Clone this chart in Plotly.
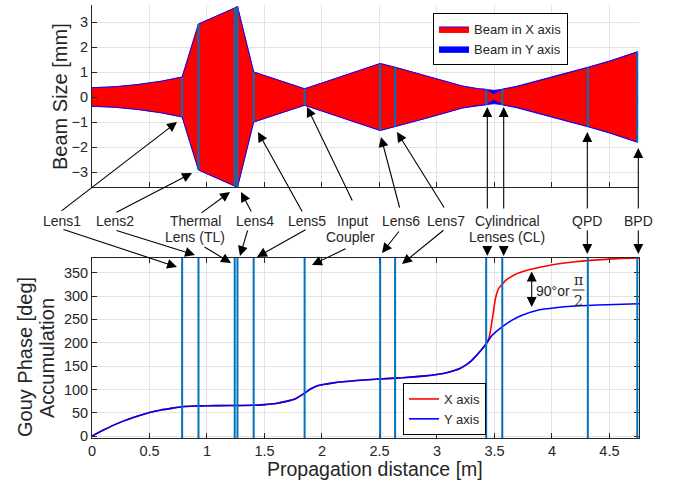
import plotly.graph_objects as go

# ---------------- data ----------------
# beam radius along propagation [m], [mm]
z_beam = [0.0, 0.2, 0.4, 0.6, 0.784, 0.926, 1.241, 1.265, 1.406, 1.849, 2.0, 2.2,
          2.506, 2.636, 2.93, 3.22, 3.36, 3.428, 3.46, 3.498, 3.535, 3.568,
          3.7, 3.9, 4.1, 4.312, 4.5, 4.742]
w_x = [0.37, 0.41, 0.50, 0.63, 0.80, 2.92, 3.56, 3.62, 1.00, 0.33, 0.56, 0.87,
       1.34, 1.19, 0.82, 0.44, 0.33, 0.31, 0.22, 0.12, 0.22, 0.31,
       0.42, 0.66, 0.92, 1.18, 1.43, 1.80]
w_y = [0.37, 0.41, 0.50, 0.63, 0.80, 2.92, 3.56, 3.62, 1.00, 0.33, 0.56, 0.87,
       1.34, 1.19, 0.82, 0.44, 0.33, 0.31, 0.29, 0.27, 0.29, 0.31,
       0.44, 0.68, 0.93, 1.19, 1.44, 1.81]

# optical elements positions [m]
elem_names = ["Lens1", "Lens2", "Thermal Lens (TL)", "Lens4", "Lens5", "Input Coupler",
              "Lens6", "Lens7", "CL1", "CL2", "QPD", "BPD"]
elem_z = [0.784, 0.926, 1.241, 1.265, 1.406, 1.849, 2.506, 2.636, 3.428, 3.568, 4.312, 4.742]

# Gouy phase accumulation [deg]
z_common = [0.0, 0.1, 0.25, 0.4, 0.5, 0.6, 0.7, 0.784, 0.9, 1.0, 1.2, 1.4, 1.5, 1.6,
            1.7, 1.77, 1.849, 1.9, 1.95, 2.0, 2.1, 2.3, 2.5, 2.7, 2.9, 3.0, 3.1,
            3.2, 3.25, 3.31, 3.37, 3.428]
g_common = [0, 13, 30, 43, 50.5, 56, 60, 63, 64.5, 65, 65.5, 66, 67.5, 70,
            75, 80, 92, 101, 107, 110, 114, 119, 122.5, 125, 129, 132, 137,
            145, 152, 164, 180, 198]
z_x_tail = [3.451, 3.466, 3.48, 3.495, 3.509, 3.524, 3.537, 3.567, 3.595, 3.68, 3.77,
            3.884, 4.03, 4.2, 4.4, 4.6, 4.757]
g_x_tail = [209, 227, 248.7, 273.8, 295, 308.5, 316.5, 325, 333, 346, 354,
            361, 368, 373.5, 377.5, 380.5, 381.5]
z_y_tail = [3.48, 3.52, 3.567, 3.65, 3.74, 3.884, 4.03, 4.2, 4.4, 4.757]
g_y_tail = [216, 225, 234, 248, 259, 270, 275, 278.6, 281, 283.5]

x_ticks = [0, 0.5, 1, 1.5, 2, 2.5, 3, 3.5, 4, 4.5]
x_ticklabels = ["0", "0.5", "1", "1.5", "2", "2.5", "3", "3.5", "4", "4.5"]
y1_ticks = [-3, -2, -1, 0, 1, 2, 3]
y2_ticks = [0, 50, 100, 150, 200, 250, 300, 350]

# ---------------- styling ----------------
W, H = 673, 485
ML, MR, MT, MB = 92, 34, 5, 47
PW, PH = W - ML - MR, H - MT - MB
FONT = "Liberation Sans, Arial, Helvetica, sans-serif"
TXT = "#262626"
LENS_C = "#0072BD"
GRID = "#e3e3e3"


def px(x):
    return (x - ML) / PW


def py(y):
    return (H - MB - y) / PH


fig = go.Figure()

# beam envelopes (Y first, X on top)
for name, w, col, rank in [("Beam in Y axis", w_y, "#0000FF", 2),
                           ("Beam in X axis", w_x, "#FF0000", 1)]:
    xs = list(z_beam) + list(z_beam[::-1])
    ys = list(w) + [-v for v in w[::-1]]
    fig.add_trace(go.Scatter(x=xs, y=ys, fill="toself", fillcolor=col, mode="lines",
                             line=dict(color="#0000FF", width=0.8), name=name,
                             legendrank=rank, legend="legend", xaxis="x", yaxis="y"))

# element markers in beam plot
for z in elem_z:
    i = z_beam.index(z)
    h = max(w_x[i], w_y[i])
    fig.add_trace(go.Scatter(x=[z, z], y=[-h, h], mode="lines",
                             line=dict(color=LENS_C, width=2), showlegend=False,
                             hoverinfo="skip", xaxis="x", yaxis="y"))

# Gouy phase curves
fig.add_trace(go.Scatter(x=z_common + z_x_tail, y=g_common + g_x_tail, mode="lines",
                         line=dict(color="#FF0000", width=1.6, shape="spline", smoothing=0.5),
                         name="X axis", legend="legend2", xaxis="x2", yaxis="y2"))
fig.add_trace(go.Scatter(x=z_common + z_y_tail, y=g_common + g_y_tail, mode="lines",
                         line=dict(color="#0000FF", width=1.6, shape="spline", smoothing=0.5),
                         name="Y axis", legend="legend2", xaxis="x2", yaxis="y2"))

shapes = []
for z in elem_z:
    shapes.append(dict(type="line", xref="x2", yref="y2 domain", x0=z, x1=z, y0=0, y1=1,
                       line=dict(color=LENS_C, width=2), layer="above"))
# fraction bar for pi/2
shapes.append(dict(type="line", xref="paper", yref="paper", x0=px(572.5), x1=px(584.5),
                   y0=py(290), y1=py(290), line=dict(color=TXT, width=1)))

ann = []


def label(text, x, y, size=14, font=FONT, angle=0):
    ann.append(dict(text=text, x=px(x), y=py(y), xref="paper", yref="paper",
                    showarrow=False, textangle=angle, xanchor="center", yanchor="middle",
                    font=dict(family=font, size=size, color=TXT)))


def arrow(head, tail, both=False):
    ann.append(dict(text="", x=px(head[0]), y=py(head[1]), xref="paper", yref="paper",
                    ax=tail[0] - head[0], ay=tail[1] - head[1], axref="pixel", ayref="pixel",
                    showarrow=True, arrowhead=2, arrowsize=1.8, arrowwidth=1.1,
                    arrowcolor="#000000", arrowside="end+start" if both else "end",
                    startarrowhead=2, startarrowsize=1.8))


# element labels
label("Lens1", 62, 221)
label("Lens2", 115, 221)
label("Thermal", 195, 221)
label("Lens (TL)", 195, 237)
label("Lens4", 255, 221)
label("Lens5", 307, 221)
label("Input", 352, 221)
label("Coupler", 350, 237)
label("Lens6", 401, 221)
label("Lens7", 446, 221)
label("Cylindrical", 507, 221)
label("Lenses (CL)", 507, 237)
label("QPD", 587, 221)
label("BPD", 638, 221)

# arrows to beam plot
for head, tail in [((177, 122), (60, 212)), ((192, 173), (115, 213)),
                   ((230, 192), (200, 214)), ((241, 192), (252, 213)),
                   ((258, 132), (303, 213)), ((307, 107), (353, 202)),
                   ((381, 137), (400, 209)), ((397, 132), (445, 209)),
                   ((487.3, 107), (487.3, 210)), ((503.7, 107), (503.7, 210)),
                   ((587.3, 132), (587.3, 210)), ((638.3, 148), (638.3, 210))]:
    arrow(head, tail)

# arrows to gouy plot
for head, tail in [((177, 267), (62, 229)), ((195, 255), (115, 230)),
                   ((231, 263), (203, 246)), ((240, 256), (248, 229)),
                   ((257, 257), (307, 229)), ((312, 265), (347, 248)),
                   ((382, 253), (400, 230)), ((402, 264), (445, 229)),
                   ((487.3, 256), (487.3, 245)), ((503.7, 256), (503.7, 245)),
                   ((587.3, 254), (587.3, 229)), ((638.3, 254), (638.3, 229))]:
    arrow(head, tail)

# 90 deg double arrow
arrow((531.7, 271.5), (531.7, 308.5), both=True)
label("90°or", 552.5, 291, size=14)
label("π", 578.5, 280, size=14, font="DejaVu Serif, serif")
label("2", 578.5, 300.5, size=14, font="DejaVu Serif, serif")

# axis titles
label("Beam Size [mm]", 60, 97, size=20, angle=-90)
label("Gouy Phase [deg]", 25, 357, size=20, angle=-90)
label("Accumulation", 47, 358, size=20, angle=-90)
label("Propagation distance [m]", 375, 469, size=19.5)

axis_common = dict(showgrid=True, gridcolor=GRID, gridwidth=1, zeroline=False,
                   showline=True, linecolor="#262626", linewidth=1,
                   ticks="inside", ticklen=5, tickcolor="#262626",
                   tickfont=dict(family=FONT, size=14.5, color=TXT))

fig.update_layout(
    width=W, height=H,
    margin=dict(l=ML, r=MR, t=MT, b=MB),
    paper_bgcolor="white", plot_bgcolor="white",
    font=dict(family=FONT, color=TXT),
    xaxis=dict(domain=[0, 1], range=[0, 4.757], anchor="y", tickvals=x_ticks,
               showticklabels=False, **axis_common),
    yaxis=dict(domain=[py(187), 1], range=[-3.6, 3.68], anchor="x", tickvals=y1_ticks,
               **axis_common),
    xaxis2=dict(domain=[0, 1], range=[0, 4.757], anchor="y2", tickvals=x_ticks,
                ticktext=x_ticklabels, mirror="ticks", **axis_common),
    yaxis2=dict(domain=[0, py(258)], range=[-4, 381.5], anchor="x2", tickvals=y2_ticks,
                mirror="ticks", **axis_common),
    legend=dict(x=px(433), y=py(13), xanchor="left", yanchor="top",
                bgcolor="white", bordercolor="#000000", borderwidth=1,
                font=dict(family=FONT, size=13, color=TXT), itemwidth=30,
                tracegroupgap=0),
    legend2=dict(x=px(403), y=py(383), xanchor="left", yanchor="top",
                 bgcolor="white", bordercolor="#000000", borderwidth=1,
                 font=dict(family=FONT, size=13, color=TXT), itemwidth=30),
    shapes=shapes,
    annotations=ann,
    showlegend=True,
)

fig.write_html("out.html", config={"displayModeBar": False},
               post_script="document.body.style.margin='0';document.body.style.overflow='hidden';")
